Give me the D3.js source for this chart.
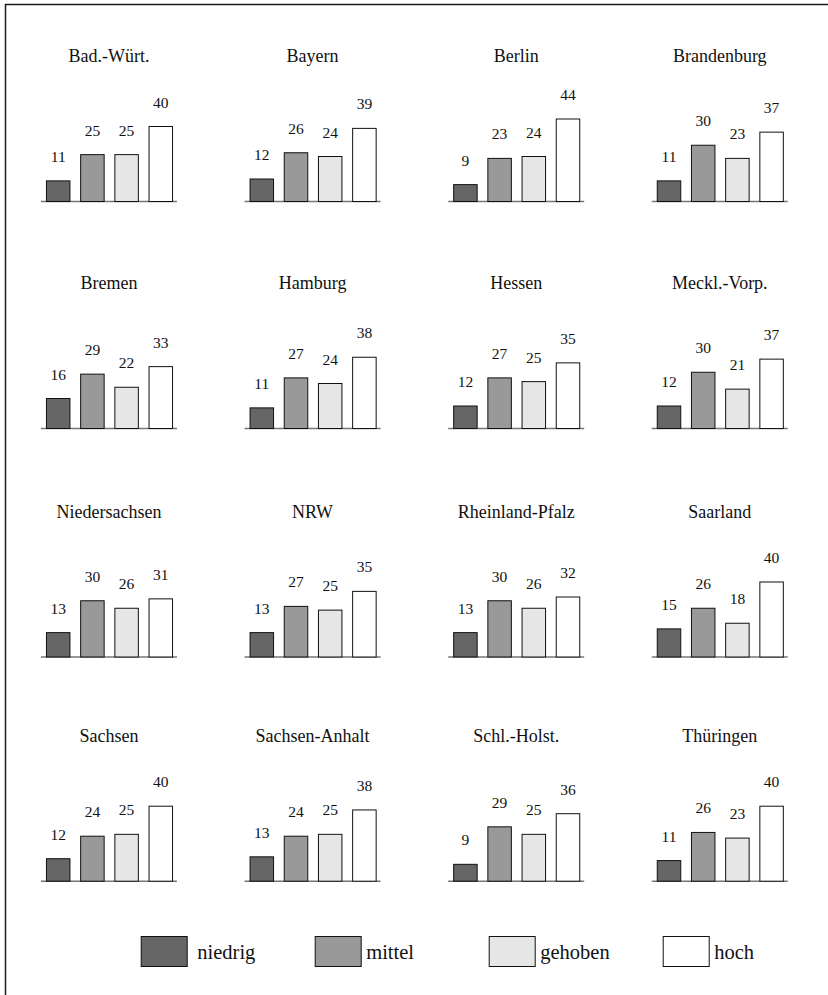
<!DOCTYPE html>
<html><head><meta charset="utf-8">
<script src="https://cdn.jsdelivr.net/npm/d3@7"></script>
<style>body{margin:0;background:#fff}svg{display:block}</style>
</head><body>
<script>
const states = ["Bad.-Würt.","Bayern","Berlin","Brandenburg","Bremen","Hamburg","Hessen","Meckl.-Vorp.","Niedersachsen","NRW","Rheinland-Pfalz","Saarland","Sachsen","Sachsen-Anhalt","Schl.-Holst.","Thüringen"];
const categories = ["niedrig","mittel","gehoben","hoch"];
const niedrig = [11,12,9,11,16,11,12,12,13,13,13,15,12,13,9,11];
const mittel  = [25,26,23,30,29,27,27,30,30,27,30,26,24,24,29,26];
const gehoben = [25,24,24,23,22,24,25,21,26,25,26,18,25,25,25,23];
const hoch    = [40,39,44,37,33,38,35,37,31,35,32,40,40,38,36,40];
const colors = ["#666666","#999999","#e6e6e6","#ffffff"];

const W = 828, H = 995;
const FONT = '"Liberation Serif"';
const svg = d3.select("body").append("svg").attr("width", W).attr("height", H);
svg.append("rect").attr("x",5.5).attr("y",4.5).attr("width",W).attr("height",H)
  .attr("fill","none").attr("stroke","#1a1a1a").attr("stroke-width",1.5);

const series = [niedrig, mittel, gehoben, hoch];
const colCenters = [109, 312.6, 516.2, 719.8];
const rowBase = [201, 428, 656.5, 880.7];
const y = d3.scaleLinear().domain([0, 40]).range([0, 75]);
const color = d3.scaleOrdinal().domain(categories).range(colors);

states.forEach((s, i) => {
  const c = colCenters[i % 4], b = rowBase[Math.floor(i / 4)];
  const x = d3.scaleBand().domain(categories).range([c - 68, c + 68]).paddingInner(0.313).paddingOuter(0.145);
  const g = svg.append("g");
  g.append("text").attr("x", c).attr("y", b - 139).attr("text-anchor","middle")
    .style("font-family", FONT).attr("font-size", 18).attr("fill","#111").text(s);
  g.append("line").attr("x1", c - 68).attr("x2", c + 68).attr("y1", b + 0.5).attr("y2", b + 0.5)
    .attr("stroke","#777").attr("stroke-width",1.5);
  const vals = categories.map((k, j) => ({k, v: series[j][i]}));
  g.selectAll("rect").data(vals).join("rect")
    .attr("x", d => x(d.k) + 0.5).attr("width", x.bandwidth())
    .attr("y", d => b - y(d.v) + 0.5).attr("height", d => y(d.v))
    .attr("fill", d => color(d.k)).attr("stroke","#111").attr("stroke-width",1);
  g.selectAll("text.v").data(vals).join("text").attr("class","v")
    .attr("x", d => x(d.k) + x.bandwidth()/2 + 0.5).attr("y", d => b - y(d.v) - 18.5)
    .attr("text-anchor","middle").style("font-family", FONT).attr("font-size", 15.5)
    .attr("fill","#111").text(d => d.v);
});

const lg = svg.append("g");
categories.forEach((k, j) => {
  const x0 = 140.7 + j * 174;
  lg.append("rect").attr("x", x0 + 0.5).attr("y", 936.5).attr("width", 46).attr("height", 30)
    .attr("fill", color(k)).attr("stroke","#111").attr("stroke-width",1);
  lg.append("text").attr("x", x0 + (j === 0 ? 56.6 : 51.5)).attr("y", 959.3)
    .style("font-family", FONT).attr("font-size", 20.5).attr("fill","#111").text(k);
});
</script>
</body></html>
